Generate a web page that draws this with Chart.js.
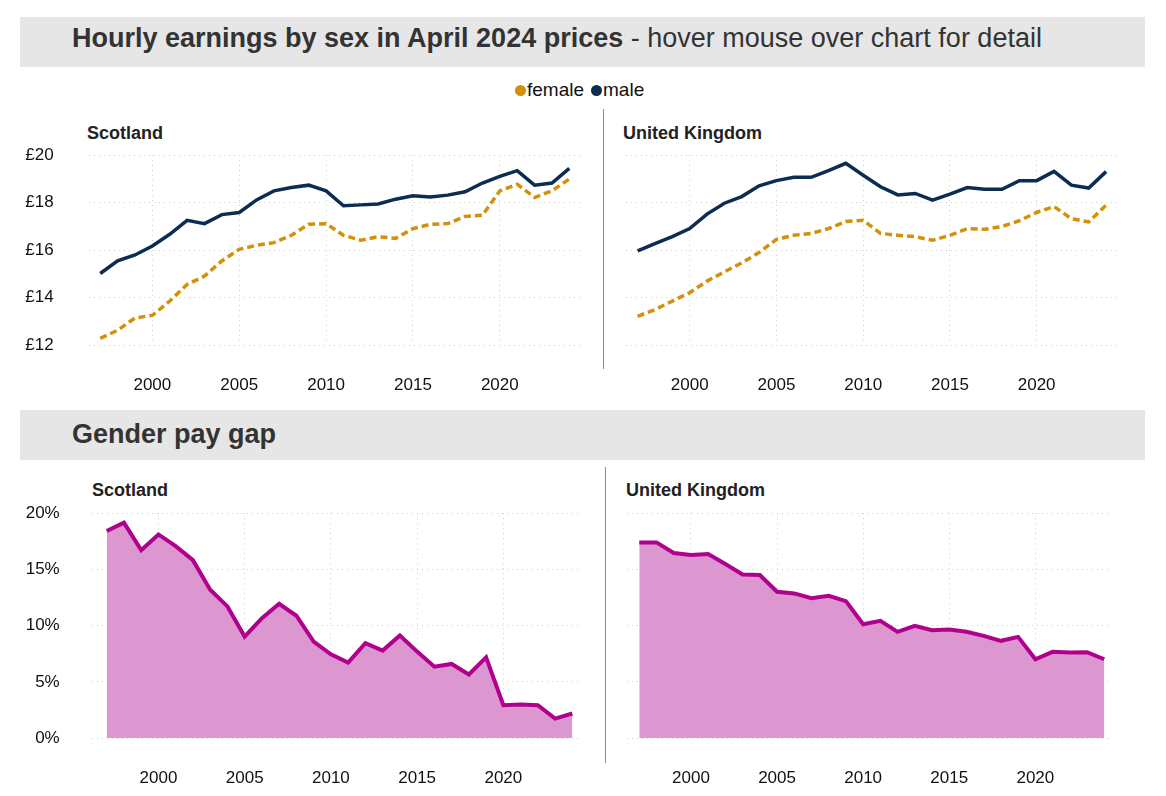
<!DOCTYPE html>
<html>
<head>
<meta charset="utf-8">
<script src="https://cdn.jsdelivr.net/npm/chart.js@4.4.1/dist/chart.umd.min.js"></script>
<style>
    body { margin: 0; background: #fff; font-family: "Liberation Sans", Arial, sans-serif; }
    #page { position: relative; width: 1166px; height: 796px; overflow: hidden; }
    .banner { position: absolute; left: 20px; width: 1125px; height: 50px; background: #e6e6e6; }
    .banner-text { position: absolute; left: 72px; line-height: 30px; font-size: 27px; color: #333; white-space: nowrap; }
    .sub { position: absolute; font-size: 18px; font-weight: bold; color: #222; line-height: 20px; white-space: nowrap; }
    .divider { position: absolute; width: 1px; background: #8c8c8c; }
    .legend { position: absolute; top: 80px; left: 515px; display: flex; align-items: center; font-size: 19px; color: #111; line-height: 20px; }
    .legend .dot { width: 11px; height: 11px; border-radius: 50%; display: inline-block; margin-right: 1px; }
    .legend .item { display: flex; align-items: center; margin-right: 7px; }
    .box { position: absolute; }
</style>
</head>
<body>
<div id="page">
    <div class="banner" style="top:17px"></div>
    <div class="banner-text" style="top:23px"><b>Hourly earnings by sex in April 2024 prices</b> - hover mouse over chart for detail</div>

    <div class="legend">
        <span class="item"><span class="dot" style="background:#d3900a"></span>female</span>
        <span class="item"><span class="dot" style="background:#0b2d52"></span>male</span>
    </div>

    <div class="sub" style="left:87px;top:123px">Scotland</div>
    <div class="sub" style="left:623px;top:123px">United Kingdom</div>
    <div class="divider" style="left:603px;top:109px;height:260px"></div>

    <div class="box" style="left:20px;top:140px;width:568px;height:255px"><canvas id="earn-scot"></canvas></div>
    <div class="box" style="left:620px;top:140px;width:503px;height:255px"><canvas id="earn-uk"></canvas></div>

    <div class="banner" style="top:410px"></div>
    <div class="banner-text" style="top:419px"><b>Gender pay gap</b></div>

    <div class="sub" style="left:92px;top:480px">Scotland</div>
    <div class="sub" style="left:626px;top:480px">United Kingdom</div>
    <div class="divider" style="left:605px;top:467px;height:296px"></div>

    <div class="box" style="left:20px;top:500px;width:568px;height:288px"><canvas id="gap-scot"></canvas></div>
    <div class="box" style="left:620px;top:500px;width:498px;height:288px"><canvas id="gap-uk"></canvas></div>
</div>

<script>
// データ
const years = [1997, 1998, 1999, 2000, 2001, 2002, 2003, 2004, 2005, 2006, 2007, 2008, 2009, 2010,
               2011, 2012, 2013, 2014, 2015, 2016, 2017, 2018, 2019, 2020, 2021, 2022, 2023, 2024];

const scotMale = [15.01, 15.54, 15.79, 16.17, 16.66, 17.25, 17.11, 17.49, 17.58, 18.11, 18.49, 18.63, 18.73, 18.49,
                  17.86, 17.90, 17.94, 18.14, 18.28, 18.23, 18.31, 18.45, 18.82, 19.10, 19.34, 18.73, 18.82, 19.44];
const scotFemale = [12.28, 12.62, 13.14, 13.25, 13.85, 14.55, 14.90, 15.54, 16.03, 16.20, 16.31, 16.62, 17.08, 17.11,
                    16.62, 16.41, 16.56, 16.49, 16.90, 17.08, 17.11, 17.41, 17.46, 18.49, 18.77, 18.21, 18.49, 18.99];

const ukMale = [15.96, 16.27, 16.56, 16.90, 17.51, 17.97, 18.25, 18.70, 18.92, 19.06, 19.06, 19.34, 19.65, 19.15,
                18.66, 18.32, 18.38, 18.10, 18.35, 18.63, 18.56, 18.56, 18.92, 18.92, 19.31, 18.73, 18.61, 19.30];
const ukFemale = [13.21, 13.49, 13.85, 14.20, 14.69, 15.08, 15.46, 15.89, 16.45, 16.62, 16.70, 16.90, 17.20, 17.25,
                  16.70, 16.62, 16.56, 16.41, 16.62, 16.90, 16.87, 16.99, 17.23, 17.58, 17.83, 17.32, 17.18, 17.89];

const scotGap = [18.42, 19.17, 16.72, 18.12, 17.08, 15.83, 13.20, 11.71, 9.03, 10.67, 11.95, 10.88, 8.58, 7.45,
                 6.71, 8.44, 7.78, 9.12, 7.69, 6.35, 6.59, 5.66, 7.18, 2.92, 2.98, 2.92, 1.73, 2.18];
const ukGap = [17.41, 17.41, 16.46, 16.29, 16.37, 15.48, 14.56, 14.50, 13.02, 12.87, 12.45, 12.66, 12.18, 10.13,
               10.43, 9.45, 9.99, 9.60, 9.66, 9.45, 9.09, 8.65, 9.00, 7.01, 7.67, 7.61, 7.64, 7.01];

const yearTicks = [2000, 2005, 2010, 2015, 2020];
const earnTicks = [12, 14, 16, 18, 20];
const gapTicks = [0, 5, 10, 15, 20];

const FONT = { family: '"Liberation Sans", Arial, sans-serif', size: 17 };
const GRID_COLOR = '#cfcfcf';

function buildChart(id, datasets, cfg) {
    const ctx = document.getElementById(id).getContext('2d');
    return new Chart(ctx, {
        type: 'line',
        data: { labels: years, datasets: datasets },
        options: {
            responsive: true,
            maintainAspectRatio: false,
            animation: false,
            layout: { padding: { top: cfg.padTop, right: cfg.padRight, left: 0, bottom: 0 } },
            elements: { point: { radius: 0, hoverRadius: 0 }, line: { tension: 0 } },
            plugins: { legend: { display: false }, tooltip: { enabled: false } },
            scales: {
                x: {
                    type: 'linear',
                    min: cfg.xMin,
                    max: cfg.xMax,
                    afterBuildTicks: (axis) => { axis.ticks = yearTicks.map(v => ({ value: v })); },
                    afterFit: (axis) => { axis.height = 50; axis.paddingLeft = 0; axis.paddingRight = 0; },
                    grid: { color: GRID_COLOR, drawTicks: false },
                    border: { display: false, dash: [1, 4] },
                    ticks: { color: '#111', font: FONT, padding: 30, maxRotation: 0,
                             callback: (v) => String(v) }
                },
                y: {
                    min: cfg.yMin,
                    max: cfg.yMax,
                    afterBuildTicks: (axis) => { axis.ticks = cfg.yTicks.map(v => ({ value: v })); },
                    // ラベル余白がチャート領域を縮めないようにする
                    afterFit: (axis) => { axis.width = cfg.yWidth; axis.paddingTop = 0; axis.paddingBottom = 0; },
                    grid: { color: GRID_COLOR, drawTicks: false },
                    border: { display: false, dash: [1, 4] },
                    ticks: { display: cfg.showY, color: '#111', font: FONT, padding: cfg.yPad,
                             callback: cfg.fmt }
                }
            }
        }
    });
}

function earnSets(female, male) {
    return [
        { label: 'female', data: female, borderColor: '#d3900a', borderWidth: 3.5, borderDash: [7, 4], fill: false },
        { label: 'male', data: male, borderColor: '#0b2d52', borderWidth: 3.5, fill: false }
    ];
}

function gapSet(values) {
    return [{ label: 'gap', data: values, borderColor: '#b0008e', borderWidth: 4,
              backgroundColor: '#dd97d0', fill: 'origin' }];
}

const poundFmt = (v) => '£' + v;
const pctFmt = (v) => v + '%';

buildChart('earn-scot', earnSets(scotFemale, scotMale), {
    padTop: 15, padRight: 6, xMin: 1996.33, xMax: 2024.73,
    yMin: 12, yMax: 20, yTicks: earnTicks, yWidth: 68.6, showY: true, yPad: 35, fmt: poundFmt
});
buildChart('earn-uk', earnSets(ukFemale, ukMale), {
    padTop: 15, padRight: 6, xMin: 1996.33, xMax: 2024.63,
    yMin: 12, yMax: 20, yTicks: earnTicks, yWidth: 6, showY: false, yPad: 0, fmt: poundFmt
});
buildChart('gap-scot', gapSet(scotGap), {
    padTop: 13.3, padRight: 6, xMin: 1996.13, xMax: 2024.56,
    yMin: 0, yMax: 20, yTicks: gapTicks, yWidth: 71.7, showY: true, yPad: 32, fmt: pctFmt
});
buildChart('gap-uk', gapSet(ukGap), {
    padTop: 13.3, padRight: 6, xMin: 1996.27, xMax: 2024.45,
    yMin: 0, yMax: 20, yTicks: gapTicks, yWidth: 6.7, showY: false, yPad: 0, fmt: pctFmt
});
</script>
</body>
</html>
